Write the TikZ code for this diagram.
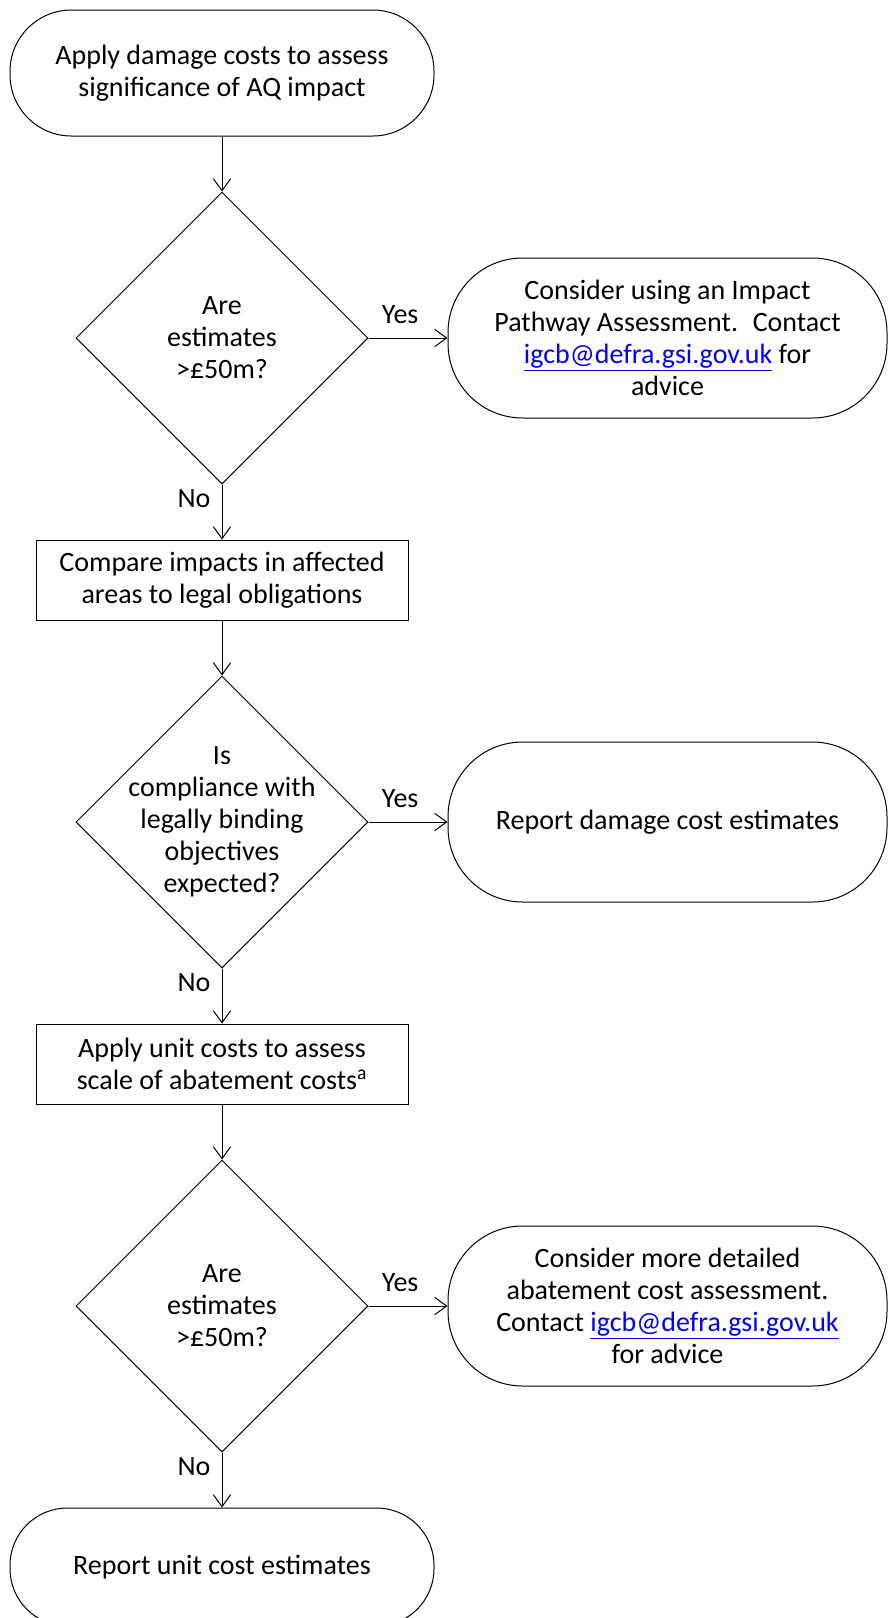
\documentclass[tikz,border=0pt]{standalone}
\usepackage{fontspec}
\setmainfont{Carlito}
\usepackage{tikz}
\usetikzlibrary{arrows.meta,positioning,shapes.geometric}

\definecolor{linkblue}{RGB}{0,0,255}
\newcommand{\maillink}{\textcolor{linkblue}{\underline{igcb@defra.gsi.gov.uk}}}

\begin{document}
\begin{tikzpicture}[
  font=\fontsize{21pt}{24pt}\selectfont,
  line width=0.75pt,
  terminal/.style={draw, rounded corners=46pt, align=center, minimum width=318pt, minimum height=94.5pt},
  outcome/.style={draw, rounded corners=56pt, align=center, minimum width=329.25pt, minimum height=120pt},
  process/.style={draw, align=center, minimum width=279pt, minimum height=60pt},
  decision/.style={draw, diamond, minimum width=219pt, minimum height=219pt, inner sep=0pt},
  qtext/.style={align=center},
  flow/.style={-{Straight Barb[length=9pt,width=13pt]}},
  node distance=41.25pt and 59.25pt
]
  \useasboundingbox (0,0) rectangle (666.75pt,-1213.5pt);

  % start
  \node[terminal] (start) at (166.5pt,-54.75pt) {Apply damage costs to assess\\significance of AQ impact};

  % first check on the estimates
  \node[decision, below=of start] (est1) {};
  \node[qtext] (est1q) at (est1) {Are\\estimates\\>£50m?};
  \node[outcome, right=of est1] (impact) {Consider using an Impact\\Pathway Assessment.~ Contact\\\maillink{} for\\advice};

  % legal obligations
  \node[process, below=of est1] (legal) {Compare impacts in affected\\areas to legal obligations};
  \node[decision, below=of legal] (comply) {};
  \node[qtext] (complyq) at (comply) {Is\\compliance with\\legally binding\\objectives\\expected?};
  \node[outcome, right=of comply] (damage) {Report damage cost estimates};

  % abatement costs
  \node[process, below=of comply] (unit) {Apply unit costs to assess\\scale of abatement costs\textsuperscript{a}};
  \node[decision, below=of unit] (est2) {};
  \node[qtext] (est2q) at (est2) {Are\\estimates\\>£50m?};
  \node[outcome, right=of est2] (abate) {Consider more detailed\\abatement cost assessment.\\Contact \maillink\\for advice};

  % end
  \node[terminal, below=of est2, minimum height=88.5pt, rounded corners=43pt] (report) {Report unit cost estimates};

  % arrows
  \draw[flow] (start) -- (est1);
  \draw[flow] (est1) -- node[above=7pt, pos=0.4] {Yes} (impact);
  \draw[flow] (est1) -- node[left=5pt, pos=0.25] {No} (legal);
  \draw[flow] (legal) -- (comply);
  \draw[flow] (comply) -- node[above=7pt, pos=0.4] {Yes} (damage);
  \draw[flow] (comply) -- node[left=5pt, pos=0.25] {No} (unit);
  \draw[flow] (unit) -- (est2);
  \draw[flow] (est2) -- node[above=7pt, pos=0.4] {Yes} (abate);
  \draw[flow] (est2) -- node[left=5pt, pos=0.25] {No} (report);
\end{tikzpicture}
\end{document}
